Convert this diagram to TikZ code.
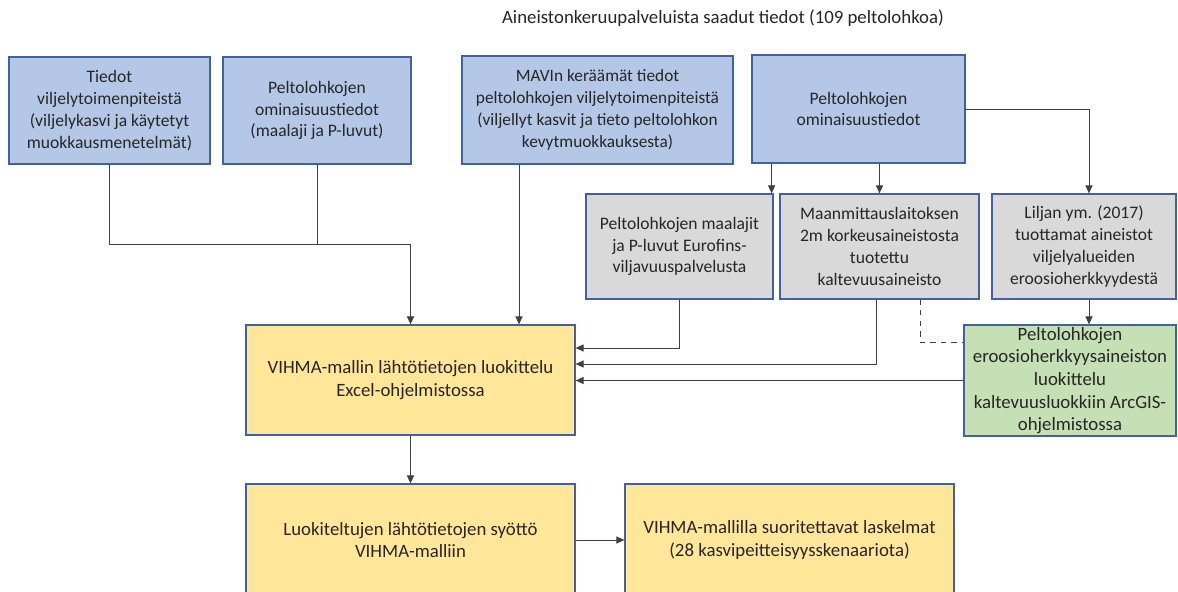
\documentclass[tikz,border=0pt]{standalone}
\usepackage{fontspec}
\setmainfont{Carlito}
\usetikzlibrary{arrows.meta}
\definecolor{bluefill}{HTML}{B4C7E7}
\definecolor{grayfill}{HTML}{D9D9D9}
\definecolor{greenfill}{HTML}{C5E0B4}
\definecolor{yellowfill}{HTML}{FFE699}
\definecolor{boxline}{HTML}{41629E}
\definecolor{conline}{HTML}{404040}
\tikzset{
  box/.style 2 args={draw=boxline, line width=0.7pt, align=center, inner sep=1pt,
    minimum width=#1*0.02cm, minimum height=#2*0.02cm},
  bluebox/.style={fill=bluefill, font=\fontsize{10}{12.4}\selectfont},
  graybox/.style={fill=grayfill, font=\fontsize{10}{12.4}\selectfont},
  greenbox/.style={fill=greenfill, font=\fontsize{10.7}{12.9}\selectfont},
  yellowbox/.style={fill=yellowfill, font=\fontsize{10.7}{12.9}\selectfont},
  arr/.style={draw=conline, line width=0.5pt, -{Triangle[length=4.5pt,width=4pt]}},
  con/.style={draw=conline, line width=0.5pt}
}
\begin{document}
\begin{tikzpicture}[x=0.02cm, y=-0.02cm, font=\fontsize{10.7}{12.9}\selectfont, text=black!85]
\clip (0,0) rectangle (1178,592);
\node (title) at (723,18) {Aineistonkeruupalveluista saadut tiedot (109 peltolohkoa)};
% lahtotiedot
\node[box={201}{107}, bluebox] (tiedot) at (109.5,110.5)
    {Tiedot\\viljelytoimenpiteistä\\(viljelykasvi ja käytetyt\\muokkausmenetelmät)};
\node[box={188}{107}, bluebox] (omin) at (317,110.5)
    {Peltolohkojen\\ominaisuustiedot\\(maalaji ja P-luvut)};
\node[box={271}{108}, bluebox, font=\fontsize{9.85}{12.4}\selectfont] (mavi) at (597.5,110)
    {MAVIn keräämät tiedot\\peltolohkojen viljelytoimenpiteistä\\(viljellyt kasvit ja tieto peltolohkon\\kevytmuokkauksesta)};
\node[box={213}{108}, bluebox] (ominb) at (858.5,109)
    {Peltolohkojen\\ominaisuustiedot};
\node[box={187}{105}, graybox] (maal) at (679.5,246.5)
    {Peltolohkojen maalajit\\ja P-luvut Eurofins-\\viljavuuspalvelusta};
\node[box={199}{105}, graybox] (maan) at (879.5,246.5)
    {Maanmittauslaitoksen\\2m korkeusaineistosta\\tuotettu\\kaltevuusaineisto};
\node[box={184}{105}, graybox] (lilj) at (1084,246.5)
    {Liljan ym. (2017)\\tuottamat aineistot\\viljelyalueiden\\eroosioherkkyydestä};
\node[box={212}{111}, greenbox] (eroo) at (1070,380.5)
    {Peltolohkojen\\eroosioherkkyysaineiston\\luokittelu\\kaltevuusluokkiin ArcGIS-\\ohjelmistossa};
% mallinnus
\node[box={329}{110}, yellowbox] (luok) at (410.5,380)
    {VIHMA-mallin lähtötietojen luokittelu\\Excel-ohjelmistossa};
\node[box={329}{112}, yellowbox] (syot) at (410.5,540)
    {Luokiteltujen lähtötietojen syöttö\\VIHMA-malliin};
\node[box={329}{112}, yellowbox] (lask) at (789.5,540)
    {VIHMA-mallilla suoritettavat laskelmat\\(28 kasvipeitteisyysskenaariota)};
\coordinate (yhd) at (410.5,244);
\draw[con] (tiedot.south) |- (yhd);
\draw[con] (omin.south) |- (yhd);
\draw[arr] (yhd) -- (luok.north);
\draw[arr] ([xshift=-1.57cm]mavi.south) -- ([xshift=-1.57cm]mavi.south |- luok.north);
\draw[arr] (ominb.east) -| ([xshift=0.1cm]lilj.north);
\draw[arr] ([xshift=-0.04cm]ominb.south -| maal.north east) -- ([xshift=-0.04cm]maal.north east);
\draw[arr] (ominb.south -| maan.north) -- (maan.north);
\draw[arr] ([xshift=0.1cm]lilj.south) -- ([xshift=0.1cm]lilj.south |- eroo.north);
\draw[arr] (maal.south) |- ([yshift=0.64cm]luok.east);
\draw[arr] ([xshift=-0.07cm]maan.south) |- ([yshift=0.32cm]luok.east);
\draw[arr] (eroo.west) -- (eroo.west -| luok.east);
\draw[con, dashed] ([xshift=0.81cm]maan.south) |- ([yshift=0.77cm]eroo.west);
\draw[arr] (luok.south) -- (syot.north);
\draw[arr] (syot.east) -- (lask.west);
\end{tikzpicture}
\end{document}
